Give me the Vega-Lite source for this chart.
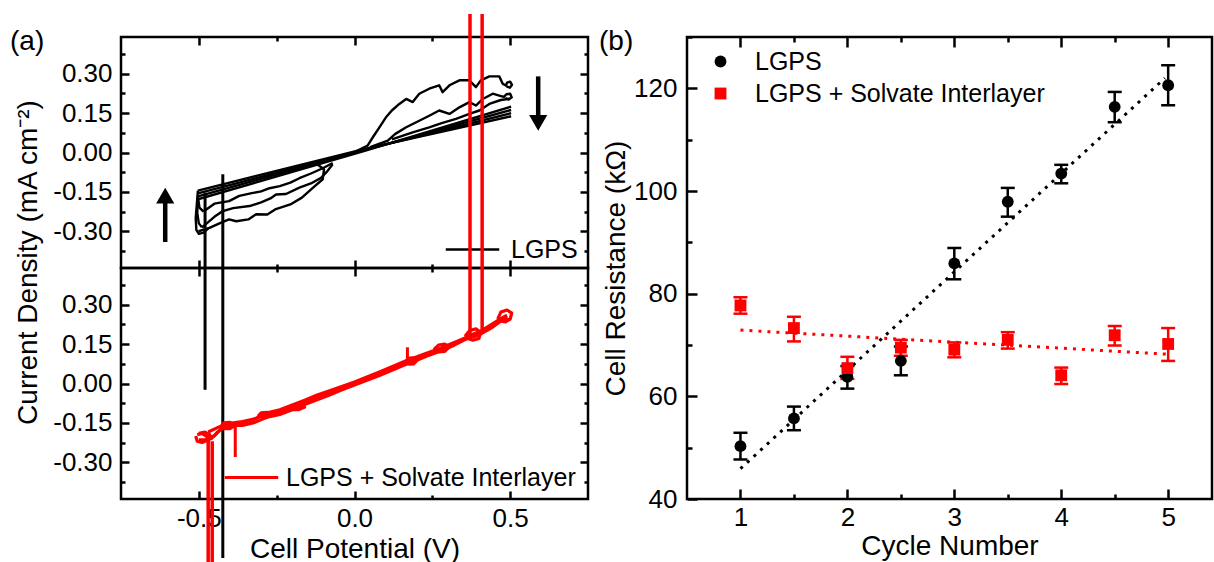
{
"$schema": "https://vega.github.io/schema/vega-lite/v6.json",
"padding": {"left": 8, "top": 10, "right": 0, "bottom": 0},
"spacing": 6,
"resolve": {"scale": {"color": "independent", "shape": "independent"}, "legend": {"color": "independent", "shape": "independent"}},
"datasets": {
"cvBlack": [
{"path":"S1","i":0,"v":-0.503,"j":-0.145},{"path":"S1","i":1,"v":0.03,"j":0.013},{"path":"S1","i":2,"v":0.503,"j":0.138},
{"path":"S2","i":0,"v":-0.503,"j":-0.156},{"path":"S2","i":1,"v":0.03,"j":0.010},{"path":"S2","i":2,"v":0.503,"j":0.150},
{"path":"S3","i":0,"v":-0.503,"j":-0.167},{"path":"S3","i":1,"v":0.03,"j":0.008},{"path":"S3","i":2,"v":0.503,"j":0.162},
{"path":"S4","i":0,"v":-0.503,"j":-0.178},{"path":"S4","i":1,"v":0.03,"j":0.005},{"path":"S4","i":2,"v":0.503,"j":0.175},
{"path":"U1","i":0,"v":0.0,"j":0.002},{"path":"U1","i":1,"v":0.042,"j":0.026},{"path":"U1","i":2,"v":0.06,"j":0.06},{"path":"U1","i":3,"v":0.08,"j":0.096},{"path":"U1","i":4,"v":0.101,"j":0.134},{"path":"U1","i":5,"v":0.12,"j":0.16},{"path":"U1","i":6,"v":0.144,"j":0.185},{"path":"U1","i":7,"v":0.166,"j":0.204},{"path":"U1","i":8,"v":0.187,"j":0.192},{"path":"U1","i":9,"v":0.208,"j":0.224},{"path":"U1","i":10,"v":0.24,"j":0.243},{"path":"U1","i":11,"v":0.272,"j":0.256},{"path":"U1","i":12,"v":0.283,"j":0.23},{"path":"U1","i":13,"v":0.305,"j":0.256},{"path":"U1","i":14,"v":0.337,"j":0.275},{"path":"U1","i":15,"v":0.369,"j":0.275},{"path":"U1","i":16,"v":0.39,"j":0.249},{"path":"U1","i":17,"v":0.406,"j":0.275},{"path":"U1","i":18,"v":0.433,"j":0.29},{"path":"U1","i":19,"v":0.465,"j":0.29},{"path":"U1","i":20,"v":0.476,"j":0.262},{"path":"U1","i":21,"v":0.486,"j":0.255},{"path":"U1","i":22,"v":0.49,"j":0.266},{"path":"U1","i":23,"v":0.5,"j":0.27},{"path":"U1","i":24,"v":0.506,"j":0.258},{"path":"U1","i":25,"v":0.499,"j":0.247},{"path":"U1","i":26,"v":0.488,"j":0.252},
{"path":"U2","i":0,"v":0.05,"j":0.02},{"path":"U2","i":1,"v":0.107,"j":0.045},{"path":"U2","i":2,"v":0.13,"j":0.07},{"path":"U2","i":3,"v":0.166,"j":0.096},{"path":"U2","i":4,"v":0.208,"j":0.121},{"path":"U2","i":5,"v":0.24,"j":0.14},{"path":"U2","i":6,"v":0.272,"j":0.16},{"path":"U2","i":7,"v":0.305,"j":0.147},{"path":"U2","i":8,"v":0.337,"j":0.172},{"path":"U2","i":9,"v":0.369,"j":0.192},{"path":"U2","i":10,"v":0.39,"j":0.179},{"path":"U2","i":11,"v":0.412,"j":0.204},{"path":"U2","i":12,"v":0.444,"j":0.224},{"path":"U2","i":13,"v":0.465,"j":0.217},{"path":"U2","i":14,"v":0.48,"j":0.212},{"path":"U2","i":15,"v":0.488,"j":0.222},{"path":"U2","i":16,"v":0.5,"j":0.224},{"path":"U2","i":17,"v":0.505,"j":0.21},{"path":"U2","i":18,"v":0.495,"j":0.202},{"path":"U2","i":19,"v":0.485,"j":0.207},
{"path":"U3","i":0,"v":0.12,"j":0.05},{"path":"U3","i":1,"v":0.187,"j":0.077},{"path":"U3","i":2,"v":0.24,"j":0.096},{"path":"U3","i":3,"v":0.28,"j":0.112},{"path":"U3","i":4,"v":0.326,"j":0.128},{"path":"U3","i":5,"v":0.369,"j":0.147},{"path":"U3","i":6,"v":0.401,"j":0.16},{"path":"U3","i":7,"v":0.433,"j":0.185},{"path":"U3","i":8,"v":0.47,"j":0.2},{"path":"U3","i":9,"v":0.5,"j":0.205},
{"path":"W1","i":0,"v":-0.501,"j":-0.3},{"path":"W1","i":1,"v":-0.466,"j":-0.287},{"path":"W1","i":2,"v":-0.43,"j":-0.268},{"path":"W1","i":3,"v":-0.403,"j":-0.255},{"path":"W1","i":4,"v":-0.38,"j":-0.262},{"path":"W1","i":5,"v":-0.341,"j":-0.255},{"path":"W1","i":6,"v":-0.316,"j":-0.235},{"path":"W1","i":7,"v":-0.28,"j":-0.236},{"path":"W1","i":8,"v":-0.255,"j":-0.217},{"path":"W1","i":9,"v":-0.206,"j":-0.198},{"path":"W1","i":10,"v":-0.169,"j":-0.172},{"path":"W1","i":11,"v":-0.133,"j":-0.134},{"path":"W1","i":12,"v":-0.102,"j":-0.102},{"path":"W1","i":13,"v":-0.098,"j":-0.064},{"path":"W1","i":14,"v":-0.12,"j":-0.045},
{"path":"W2","i":0,"v":-0.49,"j":-0.285},{"path":"W2","i":1,"v":-0.45,"j":-0.245},{"path":"W2","i":2,"v":-0.423,"j":-0.223},{"path":"W2","i":3,"v":-0.39,"j":-0.212},{"path":"W2","i":4,"v":-0.337,"j":-0.204},{"path":"W2","i":5,"v":-0.3,"j":-0.19},{"path":"W2","i":6,"v":-0.27,"j":-0.175},{"path":"W2","i":7,"v":-0.252,"j":-0.16},{"path":"W2","i":8,"v":-0.22,"j":-0.158},{"path":"W2","i":9,"v":-0.177,"j":-0.134},{"path":"W2","i":10,"v":-0.14,"j":-0.118},{"path":"W2","i":11,"v":-0.107,"j":-0.096},{"path":"W2","i":12,"v":-0.09,"j":-0.075},{"path":"W2","i":13,"v":-0.07,"j":-0.045},
{"path":"W3","i":0,"v":-0.485,"j":-0.225},{"path":"W3","i":1,"v":-0.45,"j":-0.195},{"path":"W3","i":2,"v":-0.403,"j":-0.185},{"path":"W3","i":3,"v":-0.37,"j":-0.165},{"path":"W3","i":4,"v":-0.33,"j":-0.155},{"path":"W3","i":5,"v":-0.3,"j":-0.148},{"path":"W3","i":6,"v":-0.273,"j":-0.136},{"path":"W3","i":7,"v":-0.24,"j":-0.128},{"path":"W3","i":8,"v":-0.206,"j":-0.115},{"path":"W3","i":9,"v":-0.177,"j":-0.098},{"path":"W3","i":10,"v":-0.14,"j":-0.08},{"path":"W3","i":11,"v":-0.102,"j":-0.06},{"path":"W3","i":12,"v":-0.07,"j":-0.04},
{"path":"C1","i":0,"v":-0.503,"j":-0.145},{"path":"C1","i":1,"v":-0.506,"j":-0.19},{"path":"C1","i":2,"v":-0.51,"j":-0.25},{"path":"C1","i":3,"v":-0.508,"j":-0.295},{"path":"C1","i":4,"v":-0.5,"j":-0.31},{"path":"C1","i":5,"v":-0.485,"j":-0.305},{"path":"C1","i":6,"v":-0.47,"j":-0.29},
{"path":"C2","i":0,"v":-0.503,"j":-0.178},{"path":"C2","i":1,"v":-0.505,"j":-0.23},{"path":"C2","i":2,"v":-0.5,"j":-0.27},{"path":"C2","i":3,"v":-0.49,"j":-0.285},
{"path":"C3","i":0,"v":-0.503,"j":-0.167},{"path":"C3","i":1,"v":-0.498,"j":-0.21},{"path":"C3","i":2,"v":-0.485,"j":-0.225}
],
"cvRed": [
{"path":"R1","i":0,"v":-0.505,"j":-0.195},{"path":"R1","i":1,"v":-0.49,"j":-0.19},{"path":"R1","i":2,"v":-0.47,"j":-0.205},{"path":"R1","i":3,"v":-0.45,"j":-0.2},{"path":"R1","i":4,"v":-0.43,"j":-0.175},{"path":"R1","i":5,"v":-0.41,"j":-0.162},{"path":"R1","i":6,"v":-0.38,"j":-0.158},{"path":"R1","i":7,"v":-0.36,"j":-0.15},{"path":"R1","i":8,"v":-0.33,"j":-0.14},{"path":"R1","i":9,"v":-0.3,"j":-0.125},{"path":"R1","i":10,"v":-0.27,"j":-0.118},{"path":"R1","i":11,"v":-0.24,"j":-0.108},{"path":"R1","i":12,"v":-0.2,"j":-0.09},{"path":"R1","i":13,"v":-0.16,"j":-0.072},{"path":"R1","i":14,"v":-0.12,"j":-0.052},{"path":"R1","i":15,"v":-0.08,"j":-0.036},{"path":"R1","i":16,"v":-0.04,"j":-0.018},{"path":"R1","i":17,"v":0.0,"j":0.0},{"path":"R1","i":18,"v":0.04,"j":0.018},{"path":"R1","i":19,"v":0.08,"j":0.038},{"path":"R1","i":20,"v":0.12,"j":0.058},{"path":"R1","i":21,"v":0.16,"j":0.078},{"path":"R1","i":22,"v":0.19,"j":0.09},{"path":"R1","i":23,"v":0.22,"j":0.104},{"path":"R1","i":24,"v":0.26,"j":0.125},{"path":"R1","i":25,"v":0.3,"j":0.142},{"path":"R1","i":26,"v":0.34,"j":0.162},{"path":"R1","i":27,"v":0.38,"j":0.188},{"path":"R1","i":28,"v":0.42,"j":0.205},{"path":"R1","i":29,"v":0.46,"j":0.232},{"path":"R1","i":30,"v":0.49,"j":0.255},
{"path":"R2","i":0,"v":-0.5,"j":-0.215},{"path":"R2","i":1,"v":-0.48,"j":-0.215},{"path":"R2","i":2,"v":-0.46,"j":-0.21},{"path":"R2","i":3,"v":-0.44,"j":-0.185},{"path":"R2","i":4,"v":-0.42,"j":-0.168},{"path":"R2","i":5,"v":-0.39,"j":-0.16},{"path":"R2","i":6,"v":-0.36,"j":-0.16},{"path":"R2","i":7,"v":-0.32,"j":-0.148},{"path":"R2","i":8,"v":-0.28,"j":-0.128},{"path":"R2","i":9,"v":-0.24,"j":-0.118},{"path":"R2","i":10,"v":-0.2,"j":-0.1},{"path":"R2","i":11,"v":-0.16,"j":-0.08},{"path":"R2","i":12,"v":-0.12,"j":-0.062},{"path":"R2","i":13,"v":-0.08,"j":-0.044},{"path":"R2","i":14,"v":-0.04,"j":-0.024},{"path":"R2","i":15,"v":0.0,"j":-0.006},{"path":"R2","i":16,"v":0.04,"j":0.012},{"path":"R2","i":17,"v":0.08,"j":0.03},{"path":"R2","i":18,"v":0.12,"j":0.05},{"path":"R2","i":19,"v":0.16,"j":0.07},{"path":"R2","i":20,"v":0.2,"j":0.088},{"path":"R2","i":21,"v":0.24,"j":0.108},{"path":"R2","i":22,"v":0.28,"j":0.126},{"path":"R2","i":23,"v":0.32,"j":0.146},{"path":"R2","i":24,"v":0.36,"j":0.17},{"path":"R2","i":25,"v":0.4,"j":0.185},{"path":"R2","i":26,"v":0.44,"j":0.212},{"path":"R2","i":27,"v":0.47,"j":0.238},{"path":"R2","i":28,"v":0.5,"j":0.245},
{"path":"R3","i":0,"v":-0.47,"j":-0.185},{"path":"R3","i":1,"v":-0.44,"j":-0.168},{"path":"R3","i":2,"v":-0.4,"j":-0.152},{"path":"R3","i":3,"v":-0.36,"j":-0.145},{"path":"R3","i":4,"v":-0.32,"j":-0.135},{"path":"R3","i":5,"v":-0.28,"j":-0.112},{"path":"R3","i":6,"v":-0.24,"j":-0.1},{"path":"R3","i":7,"v":-0.2,"j":-0.082},{"path":"R3","i":8,"v":-0.16,"j":-0.064},{"path":"R3","i":9,"v":-0.12,"j":-0.044},{"path":"R3","i":10,"v":-0.08,"j":-0.028},{"path":"R3","i":11,"v":0.0,"j":0.006},{"path":"R3","i":12,"v":0.08,"j":0.044},{"path":"R3","i":13,"v":0.16,"j":0.084},{"path":"R3","i":14,"v":0.22,"j":0.11},{"path":"R3","i":15,"v":0.28,"j":0.136},{"path":"R3","i":16,"v":0.34,"j":0.166},{"path":"R3","i":17,"v":0.4,"j":0.196},{"path":"R3","i":18,"v":0.46,"j":0.24},{"path":"R3","i":19,"v":0.49,"j":0.26}
],
"cvRedLoops": [
{"path":"L1","i":0,"v":0.165,"j":0.085},{"path":"L1","i":1,"v":0.175,"j":0.097},{"path":"L1","i":2,"v":0.19,"j":0.098},{"path":"L1","i":3,"v":0.2,"j":0.088},{"path":"L1","i":4,"v":0.19,"j":0.075},{"path":"L1","i":5,"v":0.175,"j":0.074},{"path":"L1","i":6,"v":0.165,"j":0.085},
{"path":"L2","i":0,"v":0.255,"j":0.13},{"path":"L2","i":1,"v":0.27,"j":0.146},{"path":"L2","i":2,"v":0.29,"j":0.15},{"path":"L2","i":3,"v":0.305,"j":0.14},{"path":"L2","i":4,"v":0.29,"j":0.122},{"path":"L2","i":5,"v":0.27,"j":0.12},{"path":"L2","i":6,"v":0.255,"j":0.13},
{"path":"L3","i":0,"v":0.355,"j":0.18},{"path":"L3","i":1,"v":0.37,"j":0.202},{"path":"L3","i":2,"v":0.39,"j":0.208},{"path":"L3","i":3,"v":0.405,"j":0.195},{"path":"L3","i":4,"v":0.4,"j":0.172},{"path":"L3","i":5,"v":0.38,"j":0.165},{"path":"L3","i":6,"v":0.362,"j":0.172},{"path":"L3","i":7,"v":0.355,"j":0.18},
{"path":"L4","i":0,"v":0.46,"j":0.245},{"path":"L4","i":1,"v":0.47,"j":0.272},{"path":"L4","i":2,"v":0.49,"j":0.28},{"path":"L4","i":3,"v":0.505,"j":0.268},{"path":"L4","i":4,"v":0.5,"j":0.245},{"path":"L4","i":5,"v":0.485,"j":0.235},{"path":"L4","i":6,"v":0.47,"j":0.238},{"path":"L4","i":7,"v":0.46,"j":0.245},
{"path":"L5","i":0,"v":-0.51,"j":-0.2},{"path":"L5","i":1,"v":-0.505,"j":-0.22},{"path":"L5","i":2,"v":-0.49,"j":-0.225},{"path":"L5","i":3,"v":-0.47,"j":-0.215},{"path":"L5","i":4,"v":-0.465,"j":-0.195},{"path":"L5","i":5,"v":-0.48,"j":-0.185},{"path":"L5","i":6,"v":-0.5,"j":-0.19},
{"path":"L6","i":0,"v":-0.43,"j":-0.165},{"path":"L6","i":1,"v":-0.42,"j":-0.15},{"path":"L6","i":2,"v":-0.4,"j":-0.148},{"path":"L6","i":3,"v":-0.385,"j":-0.16},{"path":"L6","i":4,"v":-0.4,"j":-0.172},{"path":"L6","i":5,"v":-0.42,"j":-0.172},{"path":"L6","i":6,"v":-0.43,"j":-0.165},
{"path":"L7","i":0,"v":-0.31,"j":-0.125},{"path":"L7","i":1,"v":-0.3,"j":-0.112},{"path":"L7","i":2,"v":-0.28,"j":-0.11},{"path":"L7","i":3,"v":-0.27,"j":-0.12},{"path":"L7","i":4,"v":-0.285,"j":-0.13},{"path":"L7","i":5,"v":-0.3,"j":-0.13},
{"path":"L8","i":0,"v":-0.21,"j":-0.095},{"path":"L8","i":1,"v":-0.19,"j":-0.082},{"path":"L8","i":2,"v":-0.17,"j":-0.08},{"path":"L8","i":3,"v":-0.16,"j":-0.09},{"path":"L8","i":4,"v":-0.18,"j":-0.1},{"path":"L8","i":5,"v":-0.2,"j":-0.1}
],
"glitchBlack": [
{"v":-0.48,"j":-0.153,"j2":-0.904},
{"v":-0.423,"j":-0.083,"j2":-1.545}
],
"glitchRedLong": [
{"v":0.371,"j":0.185,"j2":1.408},
{"v":0.41,"j":0.205,"j2":1.408},
{"v":-0.47,"j":-0.207,"j2":-0.68},
{"v":-0.457,"j":-0.22,"j2":-0.68}
],
"glitchRedShort": [
{"v":-0.383,"j":-0.16,"j2":-0.28},
{"v":0.17,"j":0.09,"j2":0.138}
],
"arrowShaft": [
{"v":-0.608,"j":-0.341,"j2":-0.17},
{"v":0.59,"j":0.29,"j2":0.12}
],
"arrowHead": [
{"v":-0.608,"j":-0.164,"dir":"up"},
{"v":0.59,"j":0.113,"dir":"down"}
],
"resist": [
{"series":"LGPS","cycle":1,"r":50.3,"lo":47.7,"hi":52.9},
{"series":"LGPS","cycle":1.5,"r":55.7,"lo":53.4,"hi":58.0},
{"series":"LGPS","cycle":2,"r":63.8,"lo":61.5,"hi":65.9},
{"series":"LGPS","cycle":2.5,"r":66.9,"lo":64.1,"hi":69.7},
{"series":"LGPS","cycle":3,"r":85.9,"lo":82.8,"hi":88.9},
{"series":"LGPS","cycle":3.5,"r":97.9,"lo":95.0,"hi":100.6},
{"series":"LGPS","cycle":4,"r":103.4,"lo":101.5,"hi":105.1},
{"series":"LGPS","cycle":4.5,"r":116.4,"lo":113.4,"hi":119.3},
{"series":"LGPS","cycle":5,"r":120.6,"lo":116.7,"hi":124.5},
{"series":"LGPS + Solvate Interlayer","cycle":1,"r":77.7,"lo":76.1,"hi":79.3},
{"series":"LGPS + Solvate Interlayer","cycle":1.5,"r":73.3,"lo":70.7,"hi":75.5},
{"series":"LGPS + Solvate Interlayer","cycle":2,"r":65.5,"lo":63.4,"hi":67.7},
{"series":"LGPS + Solvate Interlayer","cycle":2.5,"r":69.5,"lo":67.9,"hi":71.0},
{"series":"LGPS + Solvate Interlayer","cycle":3,"r":69.1,"lo":67.6,"hi":70.5},
{"series":"LGPS + Solvate Interlayer","cycle":3.5,"r":71.0,"lo":69.3,"hi":72.5},
{"series":"LGPS + Solvate Interlayer","cycle":4,"r":64.1,"lo":62.4,"hi":65.6},
{"series":"LGPS + Solvate Interlayer","cycle":4.5,"r":71.9,"lo":69.9,"hi":73.7},
{"series":"LGPS + Solvate Interlayer","cycle":5,"r":70.2,"lo":66.9,"hi":73.3}
],
"fits": [
{"series":"LGPS","cycle":1,"r":45.9},
{"series":"LGPS","cycle":4.97,"r":122.0},
{"series":"LGPS + Solvate Interlayer","cycle":1,"r":72.9},
{"series":"LGPS + Solvate Interlayer","cycle":5,"r":68.2}
]
},
"hconcat": [
{
"vconcat": [
{
"width": 467, "height": 231,
"title": {"text": "(a)", "anchor": "start", "frame": "group", "orient": "top", "offset": 0, "dx": -111, "dy": 42, "baseline": "alphabetic", "fontSize": 28, "fontWeight": "normal"},
"resolve": {"axis": {"x": "independent", "y": "independent"}},
"layer": [
{"data": {"name": "cvBlack"}, "mark": {"type": "line", "strokeWidth": 2.4, "clip": true, "strokeJoin": "round", "color": "#000"},
"encoding": {
"x": {"field": "v", "type": "quantitative", "scale": {"domain": [-0.75, 0.75], "nice": false, "zero": false}, "axis": {"orient": "bottom", "values": [-0.5, 0, 0.5], "labels": false, "tickSize": -8, "title": null}},
"y": {"field": "j", "type": "quantitative", "scale": {"domain": [-0.44, 0.44], "nice": false, "zero": false}, "axis": {"orient": "left", "values": [-0.3, -0.15, 0, 0.15, 0.3], "format": ".2f", "tickSize": -8, "labelPadding": 17, "labelFontSize": 26, "title": "Current Density (mA cm⁻²)", "titleY": 225, "titlePadding": 10}},
"detail": {"field": "path"},
"order": {"field": "i"},
"color": {"datum": "LGPS", "type": "nominal", "scale": {"domain": ["LGPS"], "range": ["#000000"]}, "legend": {"orient": "none", "legendX": 323, "legendY": 184, "title": null, "symbolType": "stroke", "symbolSize": 2860, "symbolStrokeWidth": 2.6, "labelFontSize": 25, "labelOffset": 10, "labelLimit": 500, "padding": 0}}
}},
{"data": {"name": "glitchBlack"}, "mark": {"type": "rule", "strokeWidth": 3, "clip": false, "color": "#000"},
"encoding": {
"x": {"field": "v", "type": "quantitative", "scale": {"domain": [-0.75, 0.75], "nice": false, "zero": false}, "axis": {"orient": "top", "values": [-0.5, 0, 0.5], "labels": false, "tickSize": -8, "title": null}},
"y": {"field": "j", "type": "quantitative", "scale": {"domain": [-0.44, 0.44], "nice": false, "zero": false}, "axis": {"orient": "right", "values": [-0.3, -0.15, 0, 0.15, 0.3], "labels": false, "tickSize": -8, "title": null}},
"y2": {"field": "j2"}
}},
{"data": {"name": "arrowShaft"}, "mark": {"type": "rule", "strokeWidth": 4.5, "color": "#000"},
"encoding": {
"x": {"field": "v", "type": "quantitative", "scale": {"domain": [-0.75, 0.75], "nice": false, "zero": false}, "axis": {"orient": "bottom", "values": [-0.25, 0.25], "labels": false, "tickSize": -4, "title": null}},
"y": {"field": "j", "type": "quantitative", "scale": {"domain": [-0.44, 0.44], "nice": false, "zero": false}, "axis": {"orient": "left", "values": [-0.375, -0.225, -0.075, 0.075, 0.225, 0.375], "labels": false, "tickSize": -4, "title": null}},
"y2": {"field": "j2"}
}},
{"data": {"name": "arrowHead"}, "mark": {"type": "point", "filled": true, "opacity": 1, "size": 330, "color": "#000"},
"encoding": {
"x": {"field": "v", "type": "quantitative", "scale": {"domain": [-0.75, 0.75], "nice": false, "zero": false}, "axis": {"orient": "top", "values": [-0.25, 0.25], "labels": false, "tickSize": -4, "title": null}},
"y": {"field": "j", "type": "quantitative", "scale": {"domain": [-0.44, 0.44], "nice": false, "zero": false}, "axis": {"orient": "right", "values": [-0.375, -0.225, -0.075, 0.075, 0.225, 0.375], "labels": false, "tickSize": -4, "title": null}},
"shape": {"field": "dir", "type": "nominal", "scale": {"domain": ["up", "down"], "range": ["triangle-up", "triangle-down"]}, "legend": null}
}}
]
},
{
"width": 467, "height": 231,
"resolve": {"axis": {"x": "independent", "y": "independent"}},
"layer": [
{"data": {"name": "cvRed"}, "mark": {"type": "line", "strokeWidth": 3.2, "clip": true, "strokeJoin": "round", "color": "#ff0000"},
"encoding": {
"x": {"field": "v", "type": "quantitative", "scale": {"domain": [-0.75, 0.75], "nice": false, "zero": false}, "axis": {"orient": "bottom", "values": [-0.5, 0, 0.5], "format": ".1f", "tickSize": -8, "labelPadding": 14, "labelFontSize": 26, "title": "Cell Potential (V)", "titlePadding": 4}},
"y": {"field": "j", "type": "quantitative", "scale": {"domain": [-0.44, 0.44], "nice": false, "zero": false}, "axis": {"orient": "left", "values": [-0.3, -0.15, 0, 0.15, 0.3], "format": ".2f", "tickSize": -8, "labelPadding": 17, "labelFontSize": 26, "title": null}},
"detail": {"field": "path"},
"order": {"field": "i"},
"color": {"datum": "LGPS + Solvate Interlayer", "type": "nominal", "scale": {"domain": ["LGPS + Solvate Interlayer"], "range": ["#ff0000"]}, "legend": {"orient": "none", "legendX": 102, "legendY": 181, "title": null, "symbolType": "stroke", "symbolSize": 2860, "symbolStrokeWidth": 3, "labelFontSize": 25, "labelOffset": 6, "labelLimit": 500, "padding": 0}}
}},
{"data": {"name": "cvRedLoops"}, "mark": {"type": "line", "strokeWidth": 3.2, "clip": true, "strokeJoin": "round", "color": "#ff0000"},
"encoding": {
"x": {"field": "v", "type": "quantitative", "scale": {"domain": [-0.75, 0.75], "nice": false, "zero": false}, "axis": {"orient": "top", "values": [-0.5, 0, 0.5], "labels": false, "tickSize": -8, "title": null}},
"y": {"field": "j", "type": "quantitative", "scale": {"domain": [-0.44, 0.44], "nice": false, "zero": false}, "axis": {"orient": "right", "values": [-0.3, -0.15, 0, 0.15, 0.3], "labels": false, "tickSize": -8, "title": null}},
"detail": {"field": "path"},
"order": {"field": "i"}
}},
{"data": {"name": "glitchRedLong"}, "mark": {"type": "rule", "strokeWidth": 3.5, "clip": false, "color": "#ff0000"},
"encoding": {
"x": {"field": "v", "type": "quantitative", "scale": {"domain": [-0.75, 0.75], "nice": false, "zero": false}, "axis": {"orient": "bottom", "values": [-0.25, 0.25], "labels": false, "tickSize": -4, "title": null}},
"y": {"field": "j", "type": "quantitative", "scale": {"domain": [-0.44, 0.44], "nice": false, "zero": false}, "axis": {"orient": "left", "values": [-0.375, -0.225, -0.075, 0.075, 0.225, 0.375], "labels": false, "tickSize": -4, "title": null}},
"y2": {"field": "j2"}
}},
{"data": {"name": "glitchRedShort"}, "mark": {"type": "rule", "strokeWidth": 3, "clip": false, "color": "#ff0000"},
"encoding": {
"x": {"field": "v", "type": "quantitative", "scale": {"domain": [-0.75, 0.75], "nice": false, "zero": false}, "axis": {"orient": "top", "values": [-0.25, 0.25], "labels": false, "tickSize": -4, "title": null}},
"y": {"field": "j", "type": "quantitative", "scale": {"domain": [-0.44, 0.44], "nice": false, "zero": false}, "axis": {"orient": "right", "values": [-0.375, -0.225, -0.075, 0.075, 0.225, 0.375], "labels": false, "tickSize": -4, "title": null}},
"y2": {"field": "j2"}
}}
]
}
],
"spacing": 0,
"bounds": "flush",
"resolve": {"scale": {"color": "independent", "shape": "independent"}, "legend": {"color": "independent", "shape": "independent"}}
},
{
"width": 525, "height": 462,
"title": {"text": "(b)", "anchor": "start", "frame": "group", "orient": "top", "offset": 0, "dx": -88, "dy": 42, "baseline": "alphabetic", "fontSize": 28, "fontWeight": "normal"},
"resolve": {"axis": {"x": "independent", "y": "independent"}},
"layer": [
{"data": {"name": "fits"}, "mark": {"type": "line", "strokeWidth": 3, "strokeDash": [3, 6], "clip": true},
"encoding": {
"x": {"field": "cycle", "type": "quantitative", "scale": {"domain": [0.5, 5.41], "nice": false, "zero": false}, "axis": {"orient": "bottom", "values": [1, 2, 3, 4, 5], "tickSize": -10, "labelPadding": 15, "labelFontSize": 26, "title": "Cycle Number", "titlePadding": 2}},
"y": {"field": "r", "type": "quantitative", "scale": {"domain": [40, 130], "nice": false, "zero": false}, "axis": {"orient": "left", "values": [40, 60, 80, 100, 120], "tickSize": -10, "labelPadding": 20, "labelFontSize": 26, "title": "Cell Resistance (kΩ)", "titlePadding": 3}},
"stroke": {"field": "series", "type": "nominal", "scale": {"domain": ["LGPS", "LGPS + Solvate Interlayer"], "range": ["#000000", "#ff0000"]}, "legend": null},
"detail": {"field": "series"}
}},
{"data": {"name": "resist"}, "mark": {"type": "rule", "strokeWidth": 2.5},
"encoding": {
"x": {"field": "cycle", "type": "quantitative", "scale": {"domain": [0.5, 5.41], "nice": false, "zero": false}, "axis": {"orient": "top", "values": [1, 2, 3, 4, 5], "labels": false, "tickSize": -10, "title": null}},
"y": {"field": "lo", "type": "quantitative", "scale": {"domain": [40, 130], "nice": false, "zero": false}, "axis": {"orient": "left", "values": [50, 70, 90, 110, 130], "labels": false, "tickSize": -5, "title": null}},
"y2": {"field": "hi"},
"stroke": {"field": "series", "type": "nominal", "scale": {"domain": ["LGPS", "LGPS + Solvate Interlayer"], "range": ["#000000", "#ff0000"]}, "legend": null}
}},
{"data": {"name": "resist"}, "mark": {"type": "tick", "orient": "horizontal", "size": 14, "thickness": 2.5, "opacity": 1},
"encoding": {
"x": {"field": "cycle", "type": "quantitative", "scale": {"domain": [0.5, 5.41], "nice": false, "zero": false}, "axis": {"orient": "bottom", "values": [1.5, 2.5, 3.5, 4.5], "labels": false, "tickSize": -5, "title": null}},
"y": {"field": "lo", "type": "quantitative", "scale": {"domain": [40, 130], "nice": false, "zero": false}, "axis": null},
"fill": {"field": "series", "type": "nominal", "scale": {"domain": ["LGPS", "LGPS + Solvate Interlayer"], "range": ["#000000", "#ff0000"]}, "legend": null}
}},
{"data": {"name": "resist"}, "mark": {"type": "tick", "orient": "horizontal", "size": 14, "thickness": 2.5, "opacity": 1},
"encoding": {
"x": {"field": "cycle", "type": "quantitative", "scale": {"domain": [0.5, 5.41], "nice": false, "zero": false}, "axis": {"orient": "top", "values": [1.5, 2.5, 3.5, 4.5], "labels": false, "tickSize": -5, "title": null}},
"y": {"field": "hi", "type": "quantitative", "scale": {"domain": [40, 130], "nice": false, "zero": false}, "axis": null},
"fill": {"field": "series", "type": "nominal", "scale": {"domain": ["LGPS", "LGPS + Solvate Interlayer"], "range": ["#000000", "#ff0000"]}, "legend": null}
}},
{"data": {"name": "resist"}, "mark": {"type": "point", "filled": true, "opacity": 1, "size": 140},
"encoding": {
"x": {"field": "cycle", "type": "quantitative", "scale": {"domain": [0.5, 5.41], "nice": false, "zero": false}, "axis": null},
"y": {"field": "r", "type": "quantitative", "scale": {"domain": [40, 130], "nice": false, "zero": false}, "axis": null},
"color": {"field": "series", "type": "nominal", "scale": {"domain": ["LGPS", "LGPS + Solvate Interlayer"], "range": ["#000000", "#ff0000"]}, "legend": {"orient": "none", "legendX": 21, "legendY": 12, "title": null, "labelFontSize": 25, "labelOffset": 22, "labelLimit": 500, "symbolSize": 140, "rowPadding": 6, "padding": 0}},
"shape": {"field": "series", "type": "nominal", "scale": {"domain": ["LGPS", "LGPS + Solvate Interlayer"], "range": ["circle", "square"]}, "legend": {"orient": "none", "legendX": 21, "legendY": 12, "title": null, "labelFontSize": 25, "labelOffset": 22, "labelLimit": 500, "symbolSize": 140, "rowPadding": 6, "padding": 0}}
}}
]
}
],
"config": {
"font": "Liberation Sans",
"view": {"stroke": "#000000", "strokeWidth": 2.5},
"axis": {"domain": false, "grid": false, "labelFontSize": 24, "labelColor": "#000000", "titleFontSize": 28, "titleFontWeight": "normal", "titleColor": "#000000", "tickColor": "#000000", "tickWidth": 2.5, "labelFont": "Liberation Sans", "titleFont": "Liberation Sans"},
"legend": {"labelFontSize": 25, "labelColor": "#000000", "labelFont": "Liberation Sans"},
"title": {"font": "Liberation Sans", "color": "#000000"},
"locale": {"number": {"decimal": ".", "thousands": ",", "grouping": [3], "currency": ["$", ""], "minus": "-"}}
}
}
